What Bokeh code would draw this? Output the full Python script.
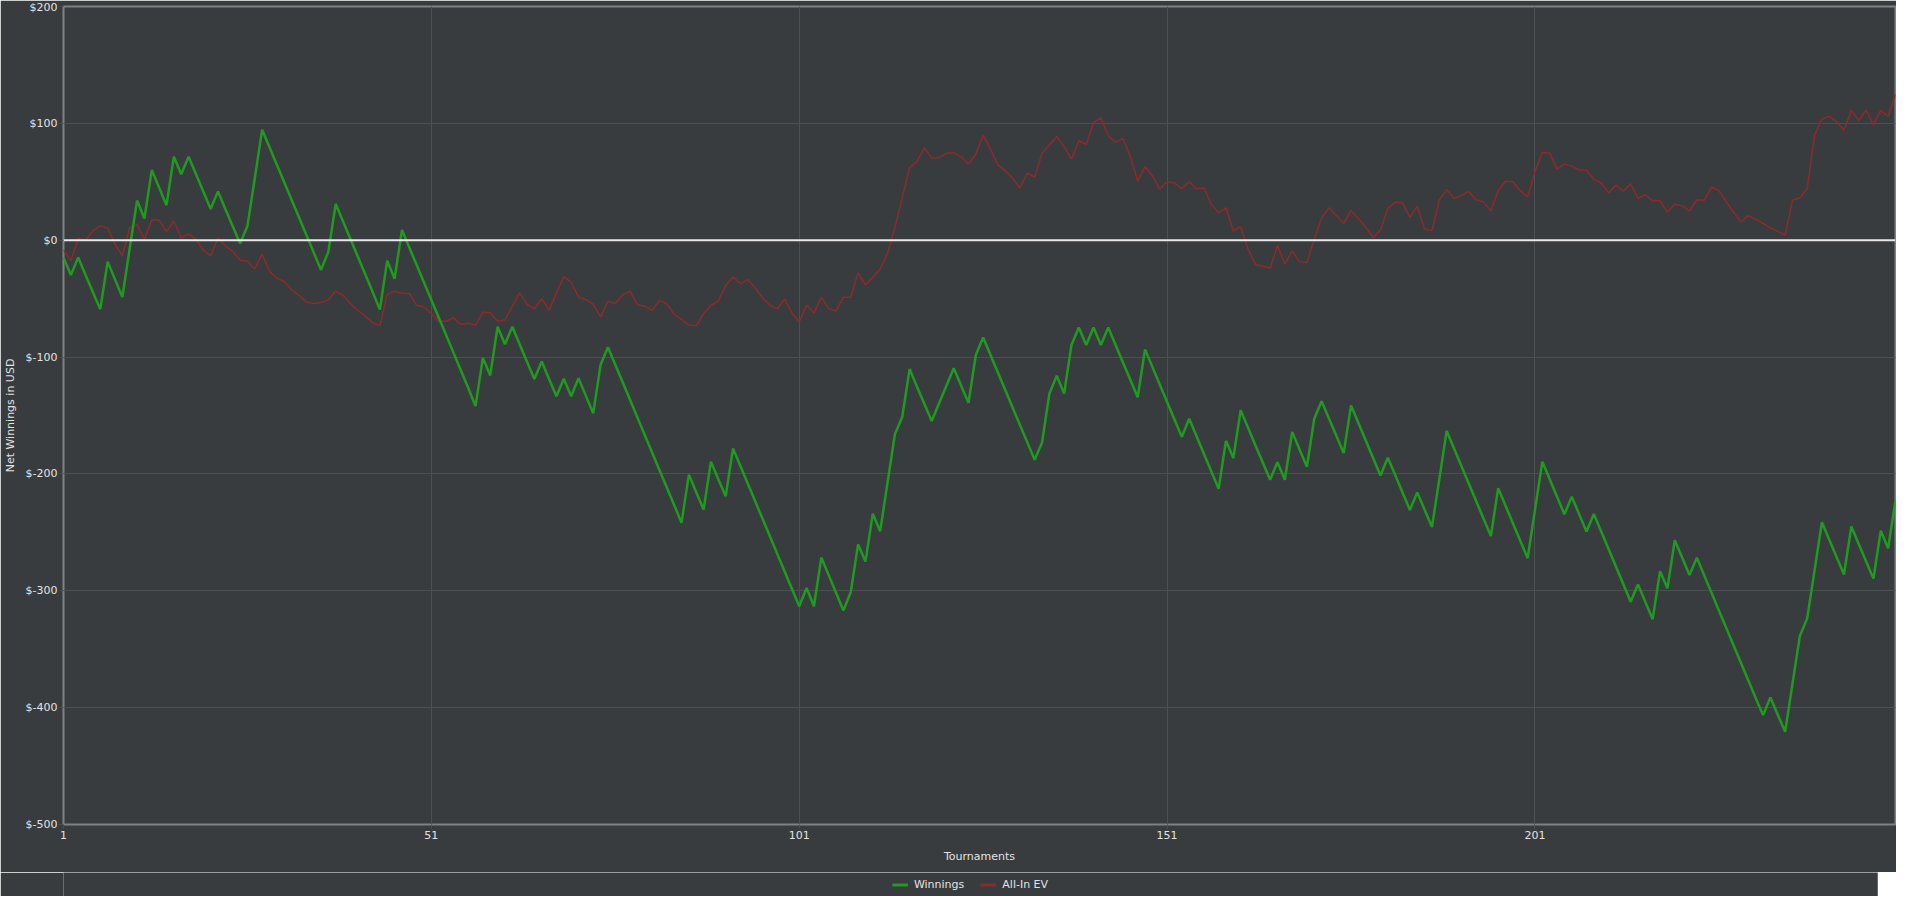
from bokeh.plotting import figure
from bokeh.layouts import column
from bokeh.models import (ColumnDataSource, Span, Legend, LegendItem, FixedTicker,
                          PrintfTickFormatter, Range1d)
from bokeh.embed import file_html
from bokeh.resources import INLINE

tournaments = list(range(1, 251))

winnings = [
    -14.7, -29.7, -14.7, -29.7, -44.5, -59.0, -18.4, -33.5, -48.6, -7.0,
    33.9, 18.6, 60.0, 45.0, 30.0, 71.5, 56.5, 71.5, 56.6, 41.7,
    26.8, 41.8, 26.8, 12.0, -2.8, 12.1, 53.0, 94.6, 79.6, 64.6,
    49.6, 34.6, 19.6, 4.6, -10.4, -25.4, -9.9, 31.0, 16.0, 1.0,
    -14.0, -29.0, -44.0, -59.4, -17.5, -33.0, 8.8, -6.2, -21.2, -36.2,
    -51.2, -66.2, -81.2, -96.2, -111.2, -126.2, -142.0, -100.7, -115.7, -74.0,
    -89.0, -74.0, -89.0, -104.0, -118.8, -103.8, -118.8, -133.5, -118.5, -133.5,
    -118.2, -133.2, -148.0, -106.6, -91.6, -106.6, -121.6, -136.6, -151.6, -166.6,
    -181.6, -196.6, -211.6, -226.6, -241.9, -200.6, -215.6, -230.5, -189.5, -204.5,
    -219.2, -178.2, -193.2, -208.2, -223.2, -238.2, -253.2, -268.2, -283.2, -298.2,
    -313.2, -297.6, -313.2, -271.6, -286.6, -301.6, -316.8, -301.3, -260.3, -275.0,
    -234.0, -249.0, -207.6, -166.0, -151.3, -110.3, -125.3, -140.0, -154.7, -139.7,
    -124.6, -109.5, -124.4, -139.2, -98.2, -83.2, -98.2, -113.2, -128.2, -143.2,
    -158.2, -173.0, -187.8, -173.1, -131.3, -116.0, -131.3, -89.7, -74.7, -89.7,
    -74.7, -89.7, -74.7, -89.7, -104.6, -119.5, -134.4, -93.4, -108.4, -123.4,
    -138.4, -153.4, -168.3, -152.8, -167.8, -182.8, -197.8, -212.7, -171.7, -186.4,
    -145.4, -160.4, -175.4, -190.2, -205.0, -190.0, -205.0, -164.0, -179.0, -193.8,
    -152.8, -137.8, -152.6, -167.4, -182.2, -141.4, -156.4, -171.4, -186.4, -201.4,
    -186.1, -201.0, -215.9, -230.8, -215.8, -230.6, -245.5, -204.3, -163.2, -178.2,
    -193.2, -208.2, -223.2, -238.2, -253.2, -212.2, -227.2, -242.2, -257.2, -272.1,
    -230.8, -189.5, -204.5, -219.5, -234.5, -219.5, -234.4, -249.2, -234.2, -249.2,
    -264.2, -279.2, -294.2, -309.3, -294.6, -309.5, -324.3, -283.2, -297.9, -256.8,
    -271.6, -286.4, -271.8, -286.8, -301.8, -316.8, -331.8, -346.8, -361.8, -376.8,
    -391.8, -406.4, -391.4, -406.1, -420.7, -379.6, -338.6, -323.6, -282.5, -241.4,
    -256.4, -271.2, -286.0, -245.0, -259.9, -274.8, -289.6, -248.6, -263.6, -222.5,
]

all_in_ev = [
    -8.2, -17.5, 1.4, 0.0, 7.9, 12.4, 10.2, -3.4, -13.3, 10.7,
    13.6, 0.6, 17.2, 17.2, 7.3, 16.4, 1.7, 5.6, 0.8, -8.5,
    -13.3, 1.7, -4.8, -9.6, -17.0, -18.0, -24.6, -11.9, -26.6, -32.5,
    -35.3, -42.4, -47.2, -52.8, -54.2, -53.4, -50.8, -43.5, -47.2, -54.2,
    -59.9, -65.0, -70.3, -73.3, -46.4, -43.6, -45.5, -45.5, -55.7, -57.1,
    -62.8, -69.3, -69.3, -66.5, -72.1, -71.0, -72.7, -61.7, -62.0, -69.3,
    -68.2, -56.6, -45.0, -54.9, -58.6, -50.1, -59.7, -45.3, -31.1, -35.9,
    -48.7, -50.9, -54.9, -65.6, -52.3, -54.3, -46.7, -43.6, -55.2, -56.6,
    -60.0, -51.5, -54.3, -63.4, -67.8, -72.7, -73.3, -62.8, -55.7, -52.0,
    -38.8, -31.4, -37.3, -33.7, -40.7, -49.2, -55.7, -58.6, -50.4, -62.0,
    -69.9, -55.7, -62.2, -48.9, -58.6, -60.5, -48.9, -48.9, -28.0, -38.2,
    -31.7, -24.6, -11.3, 10.7, 36.2, 62.2, 67.3, 79.2, 70.2, 70.7,
    74.4, 75.0, 71.6, 65.1, 73.6, 90.0, 78.0, 64.5, 59.4, 53.2,
    44.7, 57.4, 54.0, 74.4, 81.5, 88.8, 80.1, 69.3, 85.1, 82.0,
    100.7, 104.7, 89.4, 83.7, 87.1, 71.6, 50.4, 62.8, 55.2, 43.8,
    50.1, 48.9, 44.4, 50.1, 44.1, 44.7, 31.1, 23.5, 27.7, 7.9,
    11.6, -7.6, -20.7, -22.1, -23.8, -4.5, -20.4, -9.1, -18.3, -19.0,
    0.8, 19.2, 27.7, 21.2, 14.4, 25.5, 18.4, 11.3, 2.3, 8.5,
    27.2, 32.5, 32.0, 19.8, 28.9, 9.3, 8.2, 34.5, 43.3, 35.6,
    38.5, 41.6, 34.5, 32.8, 24.9, 42.7, 50.4, 50.1, 42.4, 37.1,
    58.8, 75.0, 74.7, 60.8, 65.1, 63.4, 60.3, 59.7, 52.3, 48.8,
    40.5, 47.1, 42.1, 48.2, 35.7, 38.9, 33.6, 33.9, 23.9, 30.7,
    29.6, 25.0, 34.6, 34.3, 45.4, 42.5, 32.9, 23.9, 15.7, 21.1,
    17.9, 14.3, 10.7, 7.5, 4.3, 34.3, 36.4, 44.3, 90.0, 103.6,
    106.1, 101.4, 94.3, 111.1, 102.5, 111.4, 98.6, 111.1, 106.1, 125.0,
]

x_ticks = [1, 51, 101, 151, 201]
y_ticks = [-500, -400, -300, -200, -100, 0, 100, 200]
series_names = ["Winnings", "All-In EV"]

BG = "#393c3f"
GRID = "#4d5053"
TEXT = "#e2e2e2"
GREEN = "#1f9b1f"
RED = "#8c2b2b"
FONT = "DejaVu Sans"

src = ColumnDataSource(dict(t=tournaments, win=winnings, ev=all_in_ev))

p = figure(width=1896, height=872, output_backend="svg", toolbar_location=None,
           x_range=Range1d(1, 250), y_range=Range1d(-500, 200),
           background_fill_color=BG, border_fill_color=BG,
           min_border_top=6, min_border_right=1, min_border_left=2, min_border_bottom=48)

p.outline_line_color = "#7f8285"
p.outline_line_width = 2

p.xgrid.grid_line_color = GRID
p.ygrid.grid_line_color = GRID
p.xgrid.grid_line_width = 1
p.ygrid.grid_line_width = 1

p.xaxis.ticker = FixedTicker(ticks=x_ticks)
p.yaxis.ticker = FixedTicker(ticks=y_ticks)
p.yaxis.formatter = PrintfTickFormatter(format="$%d")

for ax in (p.xaxis[0], p.yaxis[0]):
    ax.axis_line_color = None
    ax.major_tick_line_color = GRID
    ax.major_tick_out = 4
    ax.major_tick_in = 0
    ax.minor_tick_line_color = None
    ax.major_label_text_color = TEXT
    ax.major_label_text_font = FONT
    ax.major_label_text_font_size = "11px"
    ax.axis_label_text_color = TEXT
    ax.axis_label_text_font = FONT
    ax.axis_label_text_font_size = "11px"
    ax.axis_label_text_font_style = "normal"
    ax.major_label_standoff = 2

p.xaxis.axis_label = "Tournaments"
p.yaxis.axis_label = "Net Winnings in USD"
p.xaxis.axis_label_standoff = 8
p.yaxis.axis_label_standoff = 6

p.add_layout(Span(location=0, dimension="width", line_color="#e8e8e8", line_width=2))

p.line("t", "ev", source=src, line_color=RED, line_width=1.5)
p.line("t", "win", source=src, line_color=GREEN, line_width=2.5)

# legend strip below the chart: same series, drawn outside this strip's view
q = figure(width=1878, height=24, output_backend="svg", toolbar_location=None,
           x_range=Range1d(1000, 1001), y_range=Range1d(1000, 1001),
           background_fill_color=BG, border_fill_color=BG,
           min_border_top=0, min_border_bottom=0, min_border_left=0, min_border_right=0)
q.axis.visible = False
q.grid.visible = False
q.outline_line_color = None
lw = q.line("t", "win", source=src, line_color=GREEN, line_width=3)
le = q.line("t", "ev", source=src, line_color=RED, line_width=3)

legend = Legend(items=[LegendItem(label=series_names[0], renderers=[lw]),
                       LegendItem(label=series_names[1], renderers=[le])],
                orientation="horizontal", location="center")
legend.background_fill_alpha = 0
legend.border_line_color = None
legend.label_text_color = TEXT
legend.label_text_font = FONT
legend.label_text_font_size = "11px"
legend.glyph_width = 16
legend.glyph_height = 10
legend.label_height = 11
legend.label_standoff = 6
legend.spacing = 16
legend.padding = 0
legend.margin = 0
q.add_layout(legend)

layout = column(p, q, spacing=0)

html = file_html(layout, INLINE)
html = html.replace("<body>", '<body style="background-color:#393c3f;">', 1)
open("out.html", "w").write(html)
